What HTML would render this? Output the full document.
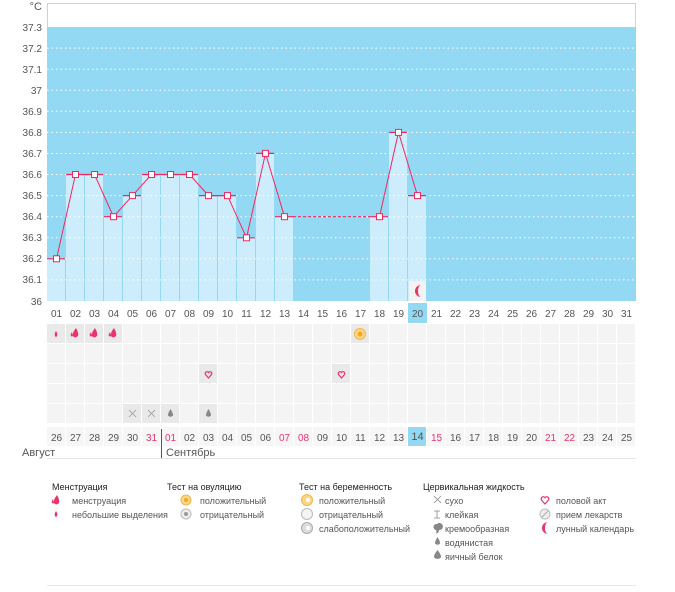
<!DOCTYPE html>
<html><head><meta charset="utf-8"><style>
body{margin:0;background:#fff;width:675px;height:587px;overflow:hidden;font-family:"Liberation Sans",sans-serif}
svg text{font-family:"Liberation Sans",sans-serif}
</style></head><body>
<svg width="675" height="587" xmlns="http://www.w3.org/2000/svg">
<defs>
<pattern id="cell" x="47" y="324" width="19" height="20" patternUnits="userSpaceOnUse"><rect width="18" height="19" fill="#f4f4f4"/></pattern>
<pattern id="cell2" x="47" y="427" width="19" height="20" patternUnits="userSpaceOnUse"><rect width="18" height="19" fill="#f6f6f6"/></pattern>
</defs>
<rect x="47.5" y="3.5" width="588" height="24" fill="#fff" stroke="#a8dff3"/>
<rect x="47" y="27" width="589" height="274" fill="#93d9f3"/>
<g fill="#cdedfc">
<rect x="47" y="258.8" width="18" height="42.2"/><rect x="66" y="174.5" width="18" height="126.5"/><rect x="85" y="174.5" width="18" height="126.5"/><rect x="104" y="216.7" width="18" height="84.3"/><rect x="123" y="195.6" width="18" height="105.4"/><rect x="142" y="174.5" width="18" height="126.5"/><rect x="161" y="174.5" width="18" height="126.5"/><rect x="180" y="174.5" width="18" height="126.5"/><rect x="199" y="195.6" width="18" height="105.4"/><rect x="218" y="195.6" width="18" height="105.4"/><rect x="237" y="237.8" width="18" height="63.2"/><rect x="256" y="153.4" width="18" height="147.6"/><rect x="275" y="216.7" width="18" height="84.3"/><rect x="370" y="216.7" width="18" height="84.3"/><rect x="389" y="132.4" width="18" height="168.6"/><rect x="408" y="195.6" width="18" height="105.4"/>
</g>
<g stroke="#fff" stroke-dasharray="1.5,3" stroke-width="1">
<line x1="47" x2="636" y1="48.1" y2="48.1"/><line x1="47" x2="636" y1="69.2" y2="69.2"/><line x1="47" x2="636" y1="90.2" y2="90.2"/><line x1="47" x2="636" y1="111.3" y2="111.3"/><line x1="47" x2="636" y1="132.4" y2="132.4"/><line x1="47" x2="636" y1="153.5" y2="153.5"/><line x1="47" x2="636" y1="174.5" y2="174.5"/><line x1="47" x2="636" y1="195.6" y2="195.6"/><line x1="47" x2="636" y1="216.7" y2="216.7"/><line x1="47" x2="636" y1="237.8" y2="237.8"/><line x1="47" x2="636" y1="258.8" y2="258.8"/><line x1="47" x2="636" y1="279.9" y2="279.9"/>
</g>
<rect x="409" y="281" width="17" height="20" fill="#f3f3f3"/>
<path d="M421,285 a6,6 0 1 0 0,12 a3,6 0 0 1 0,-12z" fill="#e8356a"/>
<g stroke="#f0285e" stroke-width="1.2">
<line x1="47" x2="65" y1="258.8" y2="258.8"/><line x1="66" x2="103" y1="174.5" y2="174.5"/><line x1="104" x2="122" y1="216.7" y2="216.7"/><line x1="123" x2="141" y1="195.6" y2="195.6"/><line x1="142" x2="198" y1="174.5" y2="174.5"/><line x1="199" x2="236" y1="195.6" y2="195.6"/><line x1="237" x2="255" y1="237.8" y2="237.8"/><line x1="256" x2="274" y1="153.4" y2="153.4"/><line x1="275" x2="293" y1="216.7" y2="216.7"/><line x1="370" x2="388" y1="216.7" y2="216.7"/><line x1="389" x2="407" y1="132.4" y2="132.4"/><line x1="408" x2="426" y1="195.6" y2="195.6"/>
<line x1="293" x2="370" y1="216.7" y2="216.7" stroke-dasharray="3,2"/>
</g>
<polyline fill="none" stroke="#f0285e" stroke-width="1" points="56.5,258.8 75.5,174.5 94.5,174.5 113.5,216.7 132.5,195.6 151.5,174.5 170.5,174.5 189.5,174.5 208.5,195.6 227.5,195.6 246.5,237.8 265.5,153.4 284.5,216.7"/>
<polyline fill="none" stroke="#f0285e" stroke-width="1" points="379.5,216.7 398.5,132.4 417.5,195.6"/>
<g fill="#fff" stroke="#f0285e" stroke-width="1">
<rect x="53.5" y="255.8" width="6" height="6"/><rect x="72.5" y="171.5" width="6" height="6"/><rect x="91.5" y="171.5" width="6" height="6"/><rect x="110.5" y="213.7" width="6" height="6"/><rect x="129.5" y="192.6" width="6" height="6"/><rect x="148.5" y="171.5" width="6" height="6"/><rect x="167.5" y="171.5" width="6" height="6"/><rect x="186.5" y="171.5" width="6" height="6"/><rect x="205.5" y="192.6" width="6" height="6"/><rect x="224.5" y="192.6" width="6" height="6"/><rect x="243.5" y="234.8" width="6" height="6"/><rect x="262.5" y="150.4" width="6" height="6"/><rect x="281.5" y="213.7" width="6" height="6"/><rect x="376.5" y="213.7" width="6" height="6"/><rect x="395.5" y="129.4" width="6" height="6"/><rect x="414.5" y="192.6" width="6" height="6"/>
</g>
<g font-size="10" fill="#555" text-anchor="end">
<text x="42" y="10" font-size="11">°C</text>
<text x="42" y="31">37.3</text><text x="42" y="52">37.2</text><text x="42" y="73">37.1</text><text x="42" y="94">37</text><text x="42" y="115">36.9</text><text x="42" y="136">36.8</text><text x="42" y="157">36.7</text><text x="42" y="178">36.6</text><text x="42" y="199">36.5</text><text x="42" y="220">36.4</text><text x="42" y="241">36.3</text><text x="42" y="262">36.2</text><text x="42" y="283">36.1</text><text x="42" y="305">36</text>
</g>
<rect x="408" y="303" width="19" height="20" fill="#93d9f3"/>
<g font-size="10" fill="#555" text-anchor="middle">
<text x="56.5" y="317">01</text><text x="75.5" y="317">02</text><text x="94.5" y="317">03</text><text x="113.5" y="317">04</text><text x="132.5" y="317">05</text><text x="151.5" y="317">06</text><text x="170.5" y="317">07</text><text x="189.5" y="317">08</text><text x="208.5" y="317">09</text><text x="227.5" y="317">10</text><text x="246.5" y="317">11</text><text x="265.5" y="317">12</text><text x="284.5" y="317">13</text><text x="303.5" y="317">14</text><text x="322.5" y="317">15</text><text x="341.5" y="317">16</text><text x="360.5" y="317">17</text><text x="379.5" y="317">18</text><text x="398.5" y="317">19</text><text x="417.5" y="317">20</text><text x="436.5" y="317">21</text><text x="455.5" y="317">22</text><text x="474.5" y="317">23</text><text x="493.5" y="317">24</text><text x="512.5" y="317">25</text><text x="531.5" y="317">26</text><text x="550.5" y="317">27</text><text x="569.5" y="317">28</text><text x="588.5" y="317">29</text><text x="607.5" y="317">30</text><text x="626.5" y="317">31</text>
</g>
<rect x="47" y="324" width="589" height="100" fill="url(#cell)"/>
<g fill="#e9e9e9">
<rect x="47" y="324" width="18" height="19"/><rect x="66" y="324" width="18" height="19"/><rect x="85" y="324" width="18" height="19"/><rect x="104" y="324" width="18" height="19"/><rect x="351" y="324" width="18" height="19"/>
<rect x="199" y="364" width="18" height="19"/><rect x="332" y="364" width="18" height="19"/>
<rect x="123" y="404" width="18" height="19"/><rect x="142" y="404" width="18" height="19"/><rect x="161" y="404" width="18" height="19"/><rect x="199" y="404" width="18" height="19"/>
</g>
<g fill="#e8356a">
<path d="M56,331 q-2,3 -1,5 q1,2 2,0 q1,-2 -1,-5z"/>
<path d="M76,328 q-4,5 -3,8 q2,3 5,0 q1,-3 -2,-8z M72,332 q-2,3 -1,4 q1,1 2,0z"/>
<path d="M95,328 q-4,5 -3,8 q2,3 5,0 q1,-3 -2,-8z M91,332 q-2,3 -1,4 q1,1 2,0z"/>
<path d="M114,328 q-4,5 -3,8 q2,3 5,0 q1,-3 -2,-8z M110,332 q-2,3 -1,4 q1,1 2,0z"/>
</g>
<circle cx="360" cy="334" r="5.5" fill="#fbd889" stroke="#f2b64a"/><circle cx="360" cy="334" r="2.5" fill="#f5a623"/>
<g fill="none" stroke="#e8356a" stroke-width="1.2">
<path d="M208.5,378 l-3,-3.5 a1.7,1.7 0 0 1 3,-2 a1.7,1.7 0 0 1 3,2z"/>
<path d="M341.5,378 l-3,-3.5 a1.7,1.7 0 0 1 3,-2 a1.7,1.7 0 0 1 3,2z"/>
</g>
<g stroke="#999" stroke-width="0.8"><path d="M129,410 l7,7 M136,410 l-7,7 M148,410 l7,7 M155,410 l-7,7"/></g>
<g fill="#888"><path d="M170.5,409 q-3,5 -2.5,6.5 q2.5,2.5 5,0 q0.5,-1.5 -2.5,-6.5z"/><path d="M208.5,409 q-3,5 -2.5,6.5 q2.5,2.5 5,0 q0.5,-1.5 -2.5,-6.5z"/></g>
<rect x="47" y="427" width="589" height="20" fill="url(#cell2)"/>
<rect x="408" y="427" width="18" height="19" fill="#93d9f3"/>
<g font-size="10" fill="#555" text-anchor="middle">
<text x="56.5" y="441">26</text><text x="75.5" y="441">27</text><text x="94.5" y="441">28</text><text x="113.5" y="441">29</text><text x="132.5" y="441">30</text><text x="151.5" y="441" fill="#e8356a">31</text><text x="170.5" y="441" fill="#e8356a">01</text><text x="189.5" y="441">02</text><text x="208.5" y="441">03</text><text x="227.5" y="441">04</text><text x="246.5" y="441">05</text><text x="265.5" y="441">06</text><text x="284.5" y="441" fill="#e8356a">07</text><text x="303.5" y="441" fill="#e8356a">08</text><text x="322.5" y="441">09</text><text x="341.5" y="441">10</text><text x="360.5" y="441">11</text><text x="379.5" y="441">12</text><text x="398.5" y="441">13</text><text x="417.5" y="440" font-size="11">14</text><text x="436.5" y="441" fill="#e8356a">15</text><text x="455.5" y="441">16</text><text x="474.5" y="441">17</text><text x="493.5" y="441">18</text><text x="512.5" y="441">19</text><text x="531.5" y="441">20</text><text x="550.5" y="441" fill="#e8356a">21</text><text x="569.5" y="441" fill="#e8356a">22</text><text x="588.5" y="441">23</text><text x="607.5" y="441">24</text><text x="626.5" y="441">25</text>
</g>
<line x1="161.5" x2="161.5" y1="429" y2="458" stroke="#555"/>
<line x1="47" x2="636" y1="458.5" y2="458.5" stroke="#e4e4e4"/>
<g font-size="11" fill="#555"><text x="22" y="456">Август</text><text x="166" y="456">Сентябрь</text></g>
<g font-size="9" fill="#222"><text x="52" y="490">Менструация</text><text x="167" y="490">Тест на овуляцию</text><text x="299" y="490">Тест на беременность</text><text x="423" y="490">Цервикальная жидкость</text></g>
<g font-size="9" fill="#555">
<text x="72" y="504">менструация</text><text x="72" y="518">небольшие выделения</text>
<text x="200" y="504">положительный</text><text x="200" y="518">отрицательный</text>
<text x="319" y="504">положительный</text><text x="319" y="518">отрицательный</text><text x="319" y="532">слабоположительный</text>
<text x="445" y="504">сухо</text><text x="445" y="518">клейкая</text><text x="445" y="532">кремообразная</text><text x="445" y="546">водянистая</text><text x="445" y="560">яичный белок</text>
<text x="556" y="504">половой акт</text><text x="556" y="518">прием лекарств</text><text x="556" y="532">лунный календарь</text>
</g>
<g fill="#e8356a"><path d="M57,495 q-4,5 -3,8 q2,3 5,0 q1,-3 -2,-8z M53,499 q-2,3 -1,4 q1,1 2,0z"/><path d="M56,511 q-2,3 -1,5 q1,2 2,0 q1,-2 -1,-5z"/></g>
<circle cx="186" cy="500" r="5" fill="#fbd889" stroke="#f2b64a"/><circle cx="186" cy="500" r="2" fill="#f5a623"/>
<circle cx="186" cy="514" r="5" fill="#eee" stroke="#bbb"/><circle cx="186" cy="514" r="2" fill="#999"/>
<circle cx="307" cy="500" r="5.5" fill="#fbd889" stroke="#f2b64a"/><circle cx="308" cy="500" r="2" fill="#fff"/>
<circle cx="307" cy="514" r="5.5" fill="#f4f4f4" stroke="#bbb"/>
<circle cx="307" cy="528" r="5.5" fill="#ddd" stroke="#aaa"/><circle cx="308" cy="528" r="2" fill="#fff"/>
<g stroke="#888" stroke-width="0.8" fill="none"><path d="M434,496 l7,7 M441,496 l-7,7 M434,511 h6 M437,511 v7 M434,518 h6"/></g>
<g fill="#888"><path d="M437,524 a3.5,3.5 0 1 1 2,6 q0,3 -3,4 q1,-2 0,-4 a3,3 0 0 1 1,-6z"/><path d="M437.5,537 q-3,5 -2.5,6.5 q2.5,2.5 5,0 q0.5,-1.5 -2.5,-6.5z"/><path d="M437.5,550 q-4,5 -3.5,7.5 q3.5,3 7,0 q0.5,-2.5 -3.5,-7.5z"/></g>
<path d="M545,504 l-3.5,-4 a2,2 0 0 1 3.5,-2.3 a2,2 0 0 1 3.5,2.3z" fill="none" stroke="#e8356a" stroke-width="1.2"/>
<circle cx="545" cy="514" r="5" fill="#eee" stroke="#bbb"/><path d="M542,517 l6,-6" stroke="#aaa"/>
<path d="M548,522 a6,6 0 1 0 0,12 a3,6 0 0 1 0,-12z" fill="#e8356a"/>
<line x1="47" x2="636" y1="585.5" y2="585.5" stroke="#e8e8e8"/>
</svg>
</body></html>
